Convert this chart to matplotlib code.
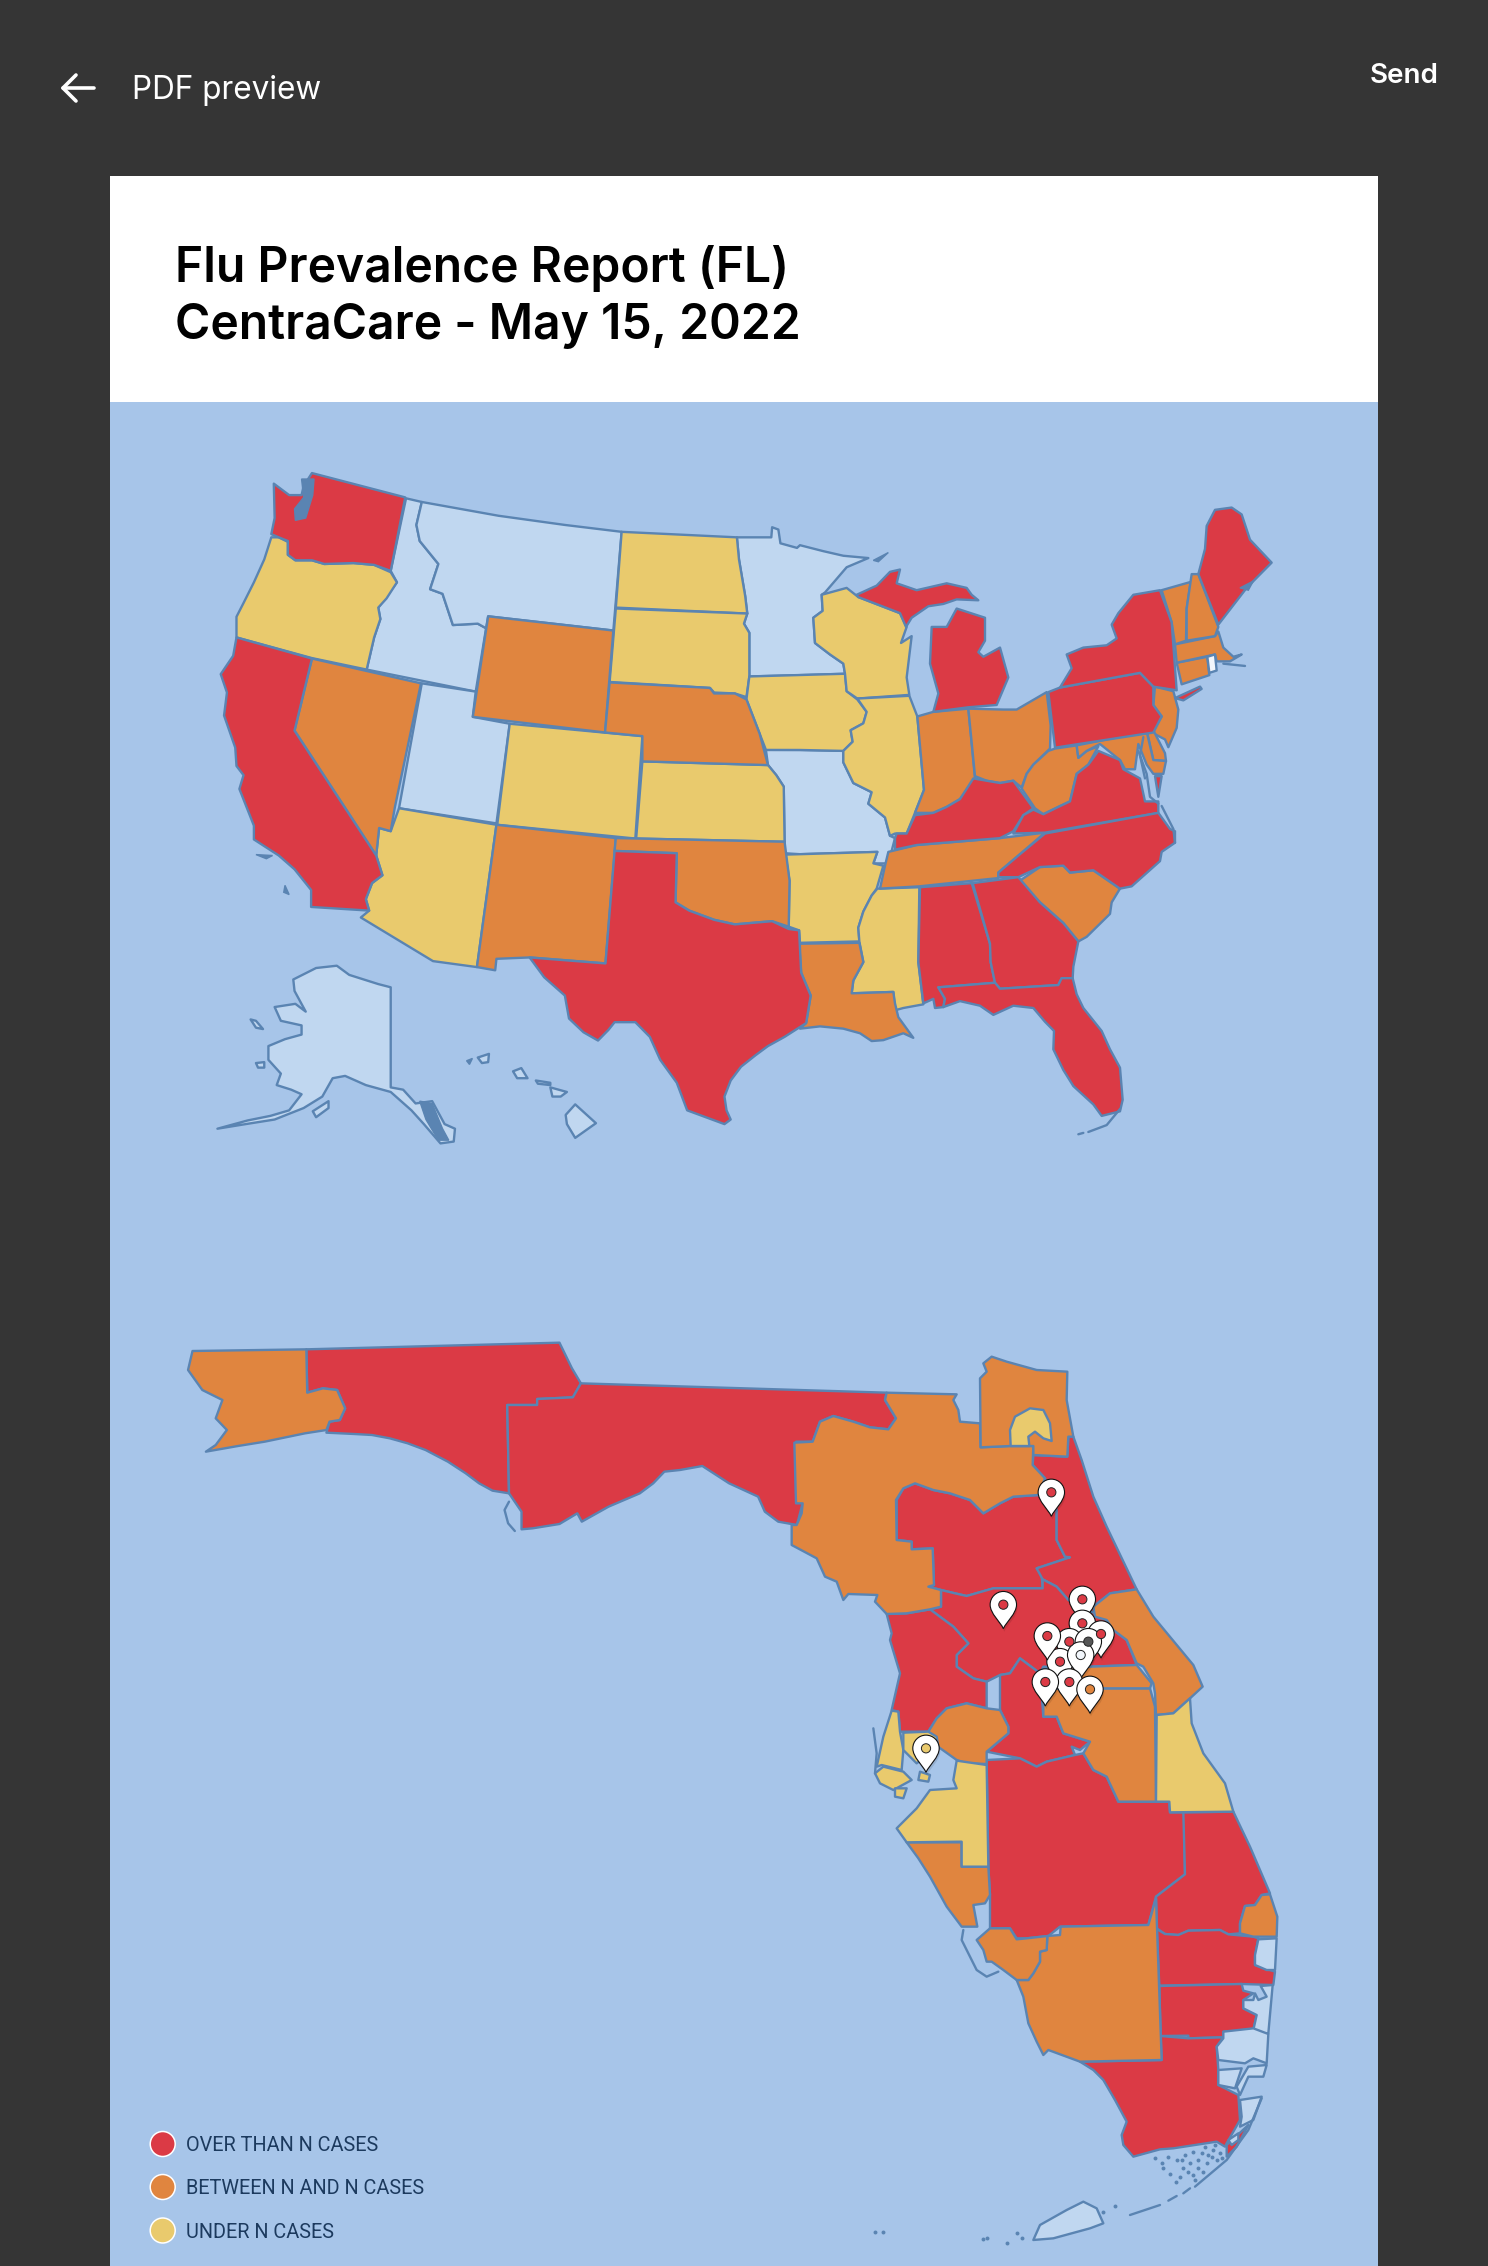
import matplotlib
matplotlib.use("Agg")
import matplotlib.pyplot as plt
from matplotlib.patches import Polygon, Circle, Rectangle, PathPatch
from matplotlib.path import Path

def _conv(x0, y0, fx, fy):
    return lambda pts: [(x0 + a / fx, y0 + b / fy) for a, b in pts]
z1 = _conv(200, 440, 2.412, 2.178)
z2 = _conv(800, 480, 3.0, 2.178)
z3 = _conv(180, 1320, 2.24, 3.0)
z4 = _conv(760, 1340, 3.0, 3.0)
z5 = _conv(840, 1780, 3.0, 3.0)

# ---------- text ----------
TITLE_LINES = ["Flu Prevalence Report (FL)", "CentraCare - May 15, 2022"]
HEADER_LABEL = "PDF preview"
SEND_LABEL = "Send"
LEGEND_LABELS = ["OVER THAN N CASES", "BETWEEN N AND N CASES", "UNDER N CASES"]
LEVEL_COLORS = {"high": "#DB3A45", "mid": "#E0853F", "low": "#E9CA6D",
                "none": "#C0D7F0", "white": "#F2F6FB"}

# ---------- US states ----------
WA = z1([(270,72),(495,125),(460,285),(420,272),(370,268),(300,270),(270,262),(230,262),(212,250),(212,220),(190,212),(172,205),(180,170),(178,95),(215,120),(245,120),(250,100)])
OR = z1([(172,212),(190,212),(212,222),(212,250),(230,262),(270,262),(300,270),(370,268),(420,272),(460,288),(475,310),(450,345),(430,365),(435,390),(420,430),(402,500),(270,475),(88,430),(88,385),(105,355),(130,310),(155,260)])
CA = z1([(88,430),(270,476),(228,633),(425,905),(440,948),(415,965),(400,1000),(408,1025),(268,1017),(268,980),(228,935),(190,905),(130,870),(130,840),(95,760),(105,730),(88,710),(85,670),(58,600),(65,550),(50,510),(80,470)])
NV = z1([(270,476),(533,530),(470,800),(460,852),(432,845),(425,905),(228,633)])
ID = z1([(497,127),(535,135),(522,185),(530,220),(575,270),(555,325),(585,335),(610,403),(670,400),(690,410),(665,548),(402,500),(420,430),(435,390),(430,365),(475,310),(460,285)])
MT = z1([(535,135),(720,165),(880,185),(1017,200),(997,415),(695,384),(690,410),(670,400),(610,403),(585,335),(555,325),(575,270),(530,220),(522,185)])
WY = z1([(695,384),(997,415),(977,637),(658,603)])
ND = z1([(1017,200),(1295,212),(1300,260),(1315,340),(1320,378),(1003,365)])
SD = z1([(1003,367),(1320,378),(1312,400),(1325,420),(1325,515),(1318,560),(1290,552),(1240,550),(1230,540),(988,527)])
NE = z1([(988,528),(1230,540),(1240,552),(1290,552),(1318,565),(1350,640),(1370,708),(1067,700),(1067,645),(977,637)])
UT = z1([(535,530),(665,548),(658,603),(747,618),(715,835),(480,802)])
CO = z1([(747,618),(1067,645),(1050,868),(717,838)])
KS = z1([(1067,700),(1370,708),(1390,730),(1408,755),(1410,875),(1052,868)])
AZ = z1([(480,802),(715,838),(668,1148),(562,1135),(388,1040),(408,1025),(400,1000),(415,965),(440,948),(425,905),(432,845),(460,852)])
NM = z1([(715,838),(1003,867),(978,1140),(795,1127),(715,1130),(712,1155),(668,1148)])
OK_ = z1([(1003,867),(1410,875),(1422,960),(1420,1060),(1380,1048),(1290,1055),(1240,1045),(1180,1025),(1147,1007),(1150,900),(1000,895)])
TX = z1([(1000,895),(1150,900),(1147,1007),(1180,1025),(1240,1045),(1290,1055),(1380,1048),(1420,1065),(1445,1068),(1450,1160),(1473,1210),(1462,1270),(1410,1300),(1370,1320),(1340,1340),(1305,1365),(1280,1395),(1265,1430),(1270,1460),(1280,1480),(1265,1490),(1175,1460),(1150,1400),(1110,1350),(1085,1300),(1050,1268),(1000,1268),(985,1285),(960,1308),(925,1290),(890,1260),(880,1210),(830,1170),(795,1127),(978,1140)])
AK = z1([(330,1145),(360,1165),(430,1185),(460,1192),(460,1410),(490,1415),(520,1445),(560,1440),(590,1490),(615,1500),(612,1528),(580,1532),(540,1490),(510,1460),(460,1420),(400,1405),(350,1385),(320,1390),(295,1430),(250,1455),(180,1480),(110,1490),(42,1500),(115,1482),(170,1472),(215,1460),(245,1425),(220,1415),(185,1405),(195,1380),(165,1350),(165,1320),(205,1305),(245,1295),(245,1275),(195,1265),(180,1235),(230,1228),(255,1245),(228,1200),(225,1175),(280,1150)])
AK_NUNIVAK = z1([(135,1357),(155,1355),(155,1367),(140,1367)])
AK_KODIAK = z1([(272,1462),(310,1440),(310,1455),(280,1475)])
AK_NUN2 = z1([(122,1262),(135,1265),(152,1283),(135,1280)])
HI_BIG = z1([(905,1447),(955,1488),(905,1520),(885,1490),(882,1470)])
HI_MAUI = z1([(845,1410),(885,1420),(870,1430),(850,1430)])
HI_OAHU = z1([(755,1375),(775,1368),(790,1390),(765,1390)])
HI_KAUAI = z1([(670,1345),(697,1337),(695,1355),(680,1357)])
HI_MOLOKAI = z1([(810,1395),(845,1400),(845,1405),(815,1402)])
MN = z1([(1295,212),(1378,212),(1380,190),(1395,195),(1400,225),(1440,235)]) + z2([(0,142),(70,155),(130,165),(205,170),(140,190),(75,245),(65,250),(68,285),(40,300),(45,355),(90,380),(130,400),(135,422),(0,425)]) + z1([(1325,515),(1325,420),(1312,400),(1320,378),(1315,340),(1300,260)])
IA = z2([(135,422),(140,460),(172,478),(200,505),(190,530),(152,545),(158,570),(130,590),(0,588)]) + z1([(1365,675),(1350,640),(1318,565),(1325,515)])
WI = z2([(65,250),(140,235),(175,255),(300,290),(320,320),(303,355),(335,340),(320,430),(328,468),(172,476),(140,460),(135,422),(130,400),(90,380),(45,355),(40,300),(68,285)])
IL = z2([(172,476),(328,470),(352,515),(372,675),(345,725),(320,770),(285,770),(270,775),(255,735),(205,705),(215,680),(160,660),(130,615),(130,590),(158,570),(152,545),(190,530),(200,505)])
MO = z2([(0,588),(130,590),(130,615),(160,660),(215,680),(205,705),(255,735),(270,775),(285,780),(265,835),(220,835),(232,810),(0,815)]) + z1([(1410,900),(1410,875),(1408,755),(1390,730),(1370,708),(1365,675)])
AR = z1([(1412,903)]) + z2([(0,815),(232,810),(220,835),(250,840),(230,890),(215,905),(190,940),(175,975),(178,1005),(0,1008)]) + z1([(1445,1068),(1420,1060),(1422,960)])
LA = z2([(0,1010),(178,1008),(190,1050),(160,1090),(155,1118),(280,1115),(285,1140),(295,1170),(320,1195),(340,1215),(310,1205),(250,1220),(215,1222),(180,1205),(130,1195),(60,1190),(0,1195)]) + z1([(1462,1270),(1473,1210),(1450,1160),(1445,1095)])
MS = z2([(232,890),(358,887),(355,1050),(370,1142),(310,1150),(285,1155),(280,1115),(155,1118),(160,1090),(190,1050),(178,1005),(175,975),(190,940),(215,905)])
AL = z2([(360,887),(515,878),(570,1010),(572,1050),(585,1095),(415,1105),(435,1130),(430,1148),(405,1150),(400,1130),(370,1140),(355,1050)])
GA = z2([(518,878),(655,865),(720,920),(790,965),(835,1005),(820,1060),(818,1085),(785,1085),(775,1100),(600,1108),(585,1095),(572,1050),(570,1010)])
FL = z2([(415,1105),(585,1095),(600,1108),(775,1100),(785,1085),(818,1085),(830,1120),(850,1150),(905,1200),(930,1240),(960,1280),(968,1350),(960,1375),(905,1385),(880,1360),(850,1340),(820,1320),(790,1285),(760,1240),(762,1200),(735,1180),(700,1150),(640,1145),(580,1165),(540,1145),(480,1135),(430,1148),(435,1130)])
SC = z2([(655,875),(720,843),(790,840),(810,855),(880,850),(960,890),(935,920),(930,945),(860,995),(835,1005),(790,965),(720,920)])
NC = z2([(1075,725),(1110,760),(1125,765),(1125,790),(1085,810),(1080,830),(995,885),(960,890),(880,850),(810,855),(790,840),(720,843),(655,865),(595,865),(595,855),(660,815),(735,770)])
TN = z2([(735,768),(660,815),(595,855),(595,867),(358,885),(240,890),(255,840),(265,810),(350,795),(600,780)])
KY = z2([(285,780),(290,770),(320,770),(345,730),(400,725),(440,712),(480,695),(520,650),(560,655),(600,660),(640,655),(665,680),(700,715),(670,730),(640,765),(600,780),(350,795),(285,805)])
VA = z2([(640,770),(670,730),(700,718),(730,728),(775,712),(810,700),(830,640),(865,620),(895,590),(960,610),(970,630),(1020,650),(1035,700),(1075,700),(1075,725),(735,768)])
WV = z2([(665,672),(680,640),(700,620),(745,590),(765,585),(830,578),(835,605),(860,590),(895,580),(865,620),(830,640),(810,700),(775,712),(730,728),(705,715)])
OH = z2([(505,498),(610,500),(650,500),(740,462),(752,535),(750,585),(700,620),(680,640),(665,670),(640,655),(600,660),(560,655),(525,645)])
IN = z2([(352,515),(400,505),(505,498),(525,650),(480,695),(440,712),(400,725),(345,725),(372,675)])
MI_L = z2([(400,505),(415,465),(390,400),(395,320),(440,320),(470,280),(555,300),(555,350),(535,375),(550,385),(600,365),(625,430),(590,490),(505,495)])
MI_U = z2([(170,250),(230,230),(270,200),(300,195),(290,225),(350,240),(440,225),(500,235),(515,250),(535,262),(470,260),(430,270),(385,275),(335,300),(318,320),(300,290),(175,255)])
PA = z2([(745,462),(780,452),(1020,420),(1060,450),(1060,490),(1085,515),(1060,550),(765,583)])
NY = z2([(780,452),(1020,420),(1060,450),(1130,458),(1115,310),(1080,240),(1000,250),(955,290),(935,315),(950,345),(920,360),(850,365),(800,380),(815,410)])
NY_LI = z2([(1125,475),(1200,450),(1205,455),(1150,480)])
NJ = z2([(1065,450),(1120,460),(1135,500),(1130,540),(1105,582),(1095,565),(1055,550),(1085,515),(1060,490)])
DE = z2([(1040,545),(1060,545),(1095,595),(1098,612),(1060,610)])
MD = z2([(830,578),(1040,548),(1060,610),(1098,612),(1090,640),(1060,640),(1040,620),(1015,575),(1005,630),(975,630),(960,610),(900,575),(860,590),(835,605)])
VA_ES = z2([(1065,645),(1085,645),(1075,690)])
CT = z2([(1130,398),(1222,385),(1228,425),(1145,445)])
RI = z2([(1222,385),(1245,380),(1250,415),(1228,420)])
MA = z2([(1125,358),(1245,340),(1255,330),(1270,365),(1300,385),(1325,380),(1290,395),(1250,395),(1245,380),(1130,398)])
VT = z2([(1085,240),(1172,222),(1160,280),(1158,350),(1125,358),(1115,310)])
NH = z2([(1175,205),(1195,205),(1255,320),(1245,340),(1160,350),(1160,280)])
ME = z2([(1195,205),(1215,150),(1220,100),(1245,65),(1295,60),(1325,75),(1350,130),(1415,180),(1340,235),(1255,315)])

US_HIGH = [WA, CA, TX, MI_L, MI_U, PA, NY, NY_LI, KY, VA, VA_ES, NC, AL, GA, FL, ME]
US_MID = [NV, WY, NE, NM, OK_, LA, IN, OH, WV, TN, SC, NJ, DE, MD, CT, MA, VT, NH]
US_LOW = [OR, ND, SD, IA, WI, IL, CO, KS, AZ, AR, MS]
US_NONE = [ID, MT, UT, MN, MO, AK, AK_NUNIVAK, AK_KODIAK, AK_NUN2, HI_BIG, HI_MAUI, HI_OAHU, HI_KAUAI, HI_MOLOKAI]
US_WHITE = [RI]
US_DARK = [z1([(245,85),(275,85),(272,120),(255,170),(230,175),(228,150),(250,125)]),
           z2([(220,175),(265,158),(235,178)]),
           z1([(135,903),(175,905),(160,912)]), z1([(205,970),(215,990),(202,985)]),
           z1([(643,1352),(657,1347),(650,1360)]), z2([(1320,235),(1360,220),(1345,240)]),
           z1([(530,1440),(560,1445),(585,1500),(600,1525),(575,1525),(545,1480)])]
US_LINES = [z2([(1015,590),(1040,640),(1050,690),(1075,705)]),
            z2([(1030,560),(1020,600),(1035,650)]),
            z2([(835,1425),(850,1422)]), z2([(865,1420),(920,1405),(960,1370)]),
            z2([(1085,710),(1120,760),(1125,790)]),
            z2([(1270,400),(1335,405)])]

# ---------- Florida regions ----------
F_PAN_W = z3([(28,93),(283,88),(285,218),(320,205),(352,210),(370,265),(358,300),(335,305),(328,330),(280,340),(190,365),(130,378),(58,395),(80,375),(105,330),(80,295),(95,240),(50,210),(18,150)])
F_PAN_A = z3([(283,88),(850,68),(878,145),(898,190),(880,232),(800,237),(800,255),(733,255),(737,520),(700,512),(670,490),(640,460),(600,425),(550,390),(510,370),(470,355),(430,345),(390,342),(328,338),(335,305),(358,300),(370,265),(352,210),(320,205),(285,218)])
F_PAN_B = z3([(733,255),(800,255),(800,237),(880,232),(898,190)]) + z4([(380,158),(375,180),(408,235),(385,268),(330,262),(280,245),(220,228),(180,245),(158,305)]) + z3([(1380,365),(1380,520),(1395,548),(1382,615),(1340,605),(1310,575),(1295,530),(1230,490),(1170,438),(1120,450),(1085,455),(1060,490),(1030,520),(960,560),(900,605),(890,580),(850,612),(790,625),(765,628),(765,575),(737,520)])
F_NC = z4([(380,158),(590,163),(580,180),(595,210),(600,245),(660,250),(662,322),(750,318),(820,318),(818,375),(855,415),(835,465),(760,470),(720,490),(670,520),(630,480),(570,460),(520,450),(465,430),(430,445),(408,480),(410,600),(455,605),(455,628),(518,625),(522,735),(505,740),(543,750),(543,800),(510,808),(440,820),(380,822),(345,785),(352,765),(265,762),(250,780),(230,725),(195,710),(170,655),(95,615),(95,555),(110,555),(125,520),(128,490),(108,490),(103,308),(158,305),(180,245),(220,228),(280,245),(330,262),(385,268),(408,235),(375,180)])
F_JAX = z4([(662,322),(660,115),(680,95),(670,70),(695,50),(740,65),(830,90),(922,95),(920,180),(940,290),(925,290),(922,350),(820,345),(820,318),(750,318)])
F_DUVAL = z4([(752,318),(750,270),(765,230),(810,205),(850,210),(870,250),(875,303),(850,295),(825,275),(805,290),(808,318)])
F_MARION = z4([(410,480),(430,445),(465,430),(520,450),(570,460),(630,480),(670,520),(720,490),(760,470),(835,465),(890,510),(890,600),(915,650),(930,652),(830,685),(845,705),(848,745),(700,745),(620,768),(585,760),(543,750),(505,740),(522,735),(518,625),(455,628),(455,605),(410,600)])
F_VOLUSIA = z4([(820,345),(922,350),(925,290),(940,290),(965,360),(1000,470),(1040,560),(1130,748),(1050,760),(1000,800),(1005,820),(960,800),(925,780),(890,740),(848,718),(830,685),(930,652),(915,650),(890,600),(890,510),(855,415),(818,375)])
F_BREVARD = z4([(1130,748),(1180,830),(1300,975),(1328,1040),(1290,1075),(1240,1120),(1188,1125),(1185,1060),(1180,1030),(1150,980),(1130,970),(1100,900),(1060,870),(1040,840),(1005,830),(1000,800),(1050,760)])
F_LAKE = z4([(543,750),(585,760),(620,768),(700,745),(848,745),(848,718),(890,740),(925,780),(960,800),(1005,820),(1040,840),(1060,870),(1100,900),(1130,975),(990,980),(850,980),(840,1000),(780,955),(750,1000),(720,1005),(680,1025),(640,1015),(590,980),(590,945),(625,910),(580,860),(510,808),(543,800)])
F_PASCO = z4([(380,822),(440,820),(510,808),(580,860),(625,910),(590,945),(590,980),(640,1015),(680,1025),(680,1105),(620,1090),(560,1105),(530,1135),(505,1175),(420,1175),(415,1115),(395,1110),(420,1000),(390,900),(395,880)])
F_POLK = z4([(720,1005),(750,1000),(780,955),(840,1000),(850,1130),(890,1130),(910,1180),(990,1205),(960,1230),(935,1220),(945,1245),(860,1265),(830,1280),(780,1255),(680,1235),(745,1180),(745,1160),(720,1110)])
F_HILLS = z4([(505,1175),(530,1135),(560,1105),(620,1090),(680,1105),(720,1110),(745,1160),(745,1180),(680,1235),(680,1272),(620,1270),(590,1260),(555,1235),(520,1210)])
F_OSCEOLA = z4([(850,1045),(1170,1045),(1185,1100),(1188,1385),(1075,1385),(1040,1310),(1000,1290),(970,1240),(990,1205),(910,1180),(890,1130),(850,1130)])
F_OSC_N = z4([(850,985),(1130,975),(1175,1030),(1170,1045),(850,1045)])
F_INDIAN = z4([(1190,1125),(1240,1120),(1290,1075),(1295,1150),(1330,1240),(1395,1330),(1420,1415),(1230,1417),(1228,1385),(1188,1385)])
F_PIN_N = z4([(395,1112),(415,1115),(420,1175),(430,1230),(425,1290),(365,1275),(350,1280),(370,1190)])
F_PIN_C = z4([(430,1178),(505,1175),(530,1190),(535,1220),(470,1270),(430,1230)])
F_PIN_S = z4([(345,1300),(370,1280),(430,1295),(455,1320),(400,1350),(360,1330)])
F_PIN_T = z4([(480,1295),(510,1305),(505,1325),(475,1320)])
F_PIN_U = z4([(405,1345),(440,1345),(430,1375),(405,1370)])
F_SW_Y = z4([(590,1262),(680,1275),(685,1580),(605,1580),(605,1505),(440,1507),(410,1465),(470,1405),(510,1350),(590,1345),(580,1320)])
F_HIGHLANDS = z4([(680,1260),(780,1255),(830,1280),(860,1265),(945,1245),(970,1240),(1000,1290),(1040,1310),(1075,1385),(1228,1385),(1230,1417),(1272,1417)]) + z5([(1035,283),(948,350),(925,435),(660,440),(625,468),(560,475),(530,475),(510,445),(450,445),(450,345),(445,260)])
F_STLUCIE = z5([(1030,97),(1180,95),(1230,200),(1290,340),(1265,345),(1245,375),(1215,378),(1200,430),(1200,460),(1165,463),(1140,450),(1045,452),(1015,465),(975,462),(950,445),(948,350),(1035,283)])
F_MARTIN = z5([(1265,345),(1290,343),(1312,410),(1310,470),(1240,470),(1200,460),(1200,430),(1215,378),(1245,375)])
F_PALM = z5([(950,447),(975,462),(1015,465),(1045,452),(1140,450),(1165,463),(1240,470),(1255,475),(1245,530),(1245,555),(1305,575),(1300,615),(1205,612),(958,617)])
F_BROWARD = z5([(958,618),(1205,612),(1210,632),(1240,640),(1210,660),(1210,685),(1250,705),(1240,750),(1150,755),(1150,772),(1045,775),(1045,767),(962,768)])
F_DADE = z5([(720,845),(965,840),(962,768),(1045,775),(1150,772),(1130,800),(1135,870),(1135,915),(1195,945),(1200,1020),(1160,1090),(1155,1100),(1130,1085),(1000,1105),(960,1108),(880,1130),(850,1095),(845,1065),(860,1025),(825,960),(790,900),(760,870)])
F_DADE_S = z5([(1160,1095),(1225,1035),(1190,1100),(1160,1130)])
F_COLLIER = z5([(530,600),(565,600),(580,580),(600,545),(600,515),(620,510),(622,468),(660,465),(662,440),(925,435),(948,355),(965,840),(720,845),(625,810),(610,825),(590,785),(565,730),(550,650)])
F_CHARLOTTE = z5([(410,480),(450,445),(510,445),(530,478),(560,475),(622,468),(620,510),(600,515),(600,545),(580,580),(565,600),(530,600),(490,570),(455,545),(440,545),(430,510)])
F_SARASOTA = z5([(200,187),(365,187),(365,260),(445,260),(450,345),(435,370),(400,375),(412,440),(365,440),(320,380),(270,290),(235,235)])
F_LB_1 = z5([(1255,478),(1310,475),(1305,570),(1280,570),(1245,555),(1245,525)])
F_LB_2 = z5([(1262,618),(1298,615),(1285,760),(1250,760),(1240,750),(1250,705),(1210,685),(1210,660),(1240,660),(1245,640),(1255,660),(1280,650)])
F_LB_3 = z5([(1150,755),(1240,745),(1285,762),(1280,850),(1240,835),(1215,850),(1135,840),(1130,800),(1150,775)])
F_LB_4 = z5([(1135,870),(1205,865),(1185,925),(1135,915)])
F_LB_5 = z5([(1225,860),(1280,855),(1270,890),(1225,890),(1200,945),(1190,920)])
F_LB_6 = z5([(1200,960),(1265,950),(1240,1020),(1200,1040),(1205,1010)])
F_LB_7 = z5([(1165,1080),(1195,1060),(1195,1080),(1175,1095)])
F_KEYWEST = z5([(580,1380),(600,1335),(680,1290),(730,1265),(770,1285),(790,1330),(750,1345),(640,1375)])

FL_HIGH = [F_PAN_A, F_PAN_B, F_MARION, F_VOLUSIA, F_LAKE, F_PASCO, F_POLK, F_HIGHLANDS, F_STLUCIE, F_PALM, F_BROWARD, F_DADE, F_DADE_S]
FL_MID = [F_PAN_W, F_NC, F_JAX, F_BREVARD, F_HILLS, F_OSCEOLA, F_OSC_N, F_COLLIER, F_CHARLOTTE, F_SARASOTA, F_MARTIN]
FL_LOW = [F_DUVAL, F_INDIAN, F_PIN_N, F_PIN_C, F_PIN_S, F_PIN_T, F_PIN_U, F_SW_Y]
FL_NONE = [F_LB_1, F_LB_2, F_LB_3, F_LB_4, F_LB_5, F_LB_6, F_LB_7, F_KEYWEST]
FL_LINES = [z3([(737,545),(727,570),(735,610),(750,633)]),
            z5([(370,450),(365,480),(410,570),(440,590),(475,575)]),
            z5([(870,1305),(960,1275)]), z5([(985,1262),(1010,1248)]), z5([(1030,1240),(1050,1225)]),
            z5([(1065,1220),(1160,1140),(1225,1050),(1265,955)]),
            z4([(340,1165),(350,1240),(345,1300)])]
FL_BAY_ISLETS = z5([(945,1135),(965,1150),(985,1130),(970,1165),(990,1183),(1010,1140),(1008,1205),(1030,1165),(1050,1150),(1060,1185),(1075,1140),(1085,1120),(1100,1150),(1120,1110),(1130,1140),(1060,1115),(1035,1125),(1090,1175),(1020,1190),(1105,1125),(1140,1120),
                     (1045,1175),(1075,1165),(1115,1130),(1125,1095),(1095,1100),(1145,1135),(1025,1140),(1065,1200),
                     (790,1295),(825,1277),(440,1375),(430,1378),(530,1358),(500,1388),(545,1375),(105,1355),(128,1357)])

# ---------- pins: dot centre in zoom frame, and dot colour ----------
PIN_XY = z4([(874,457),(730,794),(967,778),(967,850),(1023,882),(928,905),(985,905),(900,965),(862,888),(962,945),(928,1026),(856,1026),(990,1048),(498,1225)])
PIN_DOT = ["high","high","high","high","high","high","dark","high","high","white","high","high","mid","low"]

# ---------- drawing ----------
W, H = 1488, 2266
fig = plt.figure(figsize=(W/100, H/100), dpi=100, facecolor="#353535")
ax = fig.add_axes([0, 0, 1, 1])
ax.set_xlim(0, W); ax.set_ylim(H, 0); ax.axis("off")

OCEAN, EDGE = "#A7C5E9", "#5A84B2"
ax.add_patch(Rectangle((110, 402), 1268, H-402, fc=OCEAN, ec="none", zorder=1))
ax.add_patch(Rectangle((110, 176), 1268, 226, fc="white", ec="none", zorder=1))

def fill(polys, level):
    for p in polys:
        ax.add_patch(Polygon(p, closed=True, fc=LEVEL_COLORS[level], ec=EDGE, lw=1.7, joinstyle="round", zorder=3))

for polys, lv in [(US_NONE,"none"),(US_LOW,"low"),(US_MID,"mid"),(US_HIGH,"high"),(US_WHITE,"white")]:
    fill(polys, lv)
for polys, lv in [(FL_HIGH,"high"),(FL_MID,"mid"),(FL_LOW,"low"),(FL_NONE,"none")]:
    fill(polys, lv)
for p in US_DARK:
    ax.add_patch(Polygon(p, closed=True, fc=EDGE, ec=EDGE, lw=1, zorder=4))
for l in US_LINES + FL_LINES:
    ax.plot([q[0] for q in l], [q[1] for q in l], color=EDGE, lw=1.7, zorder=4, solid_capstyle="round")
ax.scatter([q[0] for q in FL_BAY_ISLETS], [q[1] for q in FL_BAY_ISLETS], s=8, color=EDGE, lw=0, zorder=4)

def pin(x, y, dot):
    r, h = 13.2, 24.0
    verts = [(x, y+h), (x-3, y+17), (x-r, y+9), (x-r, y), (x-r, y-7.3), (x-7.3, y-r), (x, y-r),
             (x+7.3, y-r), (x+r, y-7.3), (x+r, y), (x+r, y+9), (x+3, y+17), (x, y+h), (x, y+h)]
    codes = [Path.MOVETO] + [Path.CURVE4]*12 + [Path.CLOSEPOLY]
    ax.add_patch(PathPatch(Path([(a+1, b+3) for a, b in verts], codes), fc="#000000", ec="none", alpha=0.10, zorder=5))
    ax.add_patch(PathPatch(Path(verts, codes), fc="white", ec="#111111", lw=0.8, zorder=6))
    c = {"dark": "#555555"}.get(dot, LEVEL_COLORS.get(dot))
    ax.add_patch(Circle((x, y), 4.6, fc=c, ec="#222222", lw=0.7, zorder=7))

for (x, y), d in zip(PIN_XY, PIN_DOT):
    pin(x, y, d)

# header
ax.text(132, 91, HEADER_LABEL, color="white", fontsize=22.7, family="Inter", va="center", ha="left", zorder=9)
ax.text(1439, 76, SEND_LABEL, color="white", fontsize=20, family="Inter", weight="semibold", va="center", ha="right", zorder=9)
ax.plot([63, 94], [88, 88], color="white", lw=2.6, solid_capstyle="round", zorder=9)
ax.plot([76, 63, 76], [75, 88, 101], color="white", lw=2.6, solid_capstyle="round", solid_joinstyle="round", zorder=9)
for (yy, t) in zip([268, 326], TITLE_LINES):
    ax.text(175, yy, t, color="black", fontsize=34.6, family="Inter", weight="semibold", va="center", ha="left", zorder=9)

# legend
for yy, t, lv in zip([2144, 2187, 2230.5], LEGEND_LABELS, ["high", "mid", "low"]):
    ax.add_patch(Circle((162.7, yy), 12.5, fc=LEVEL_COLORS[lv], ec="white", lw=1.1, zorder=8))
    ax.text(186, yy + 1.5, t, color="#1C3A5E", fontsize=14.3, family="Roboto", va="center", ha="left", zorder=9)

fig.savefig("out.png", dpi=100, facecolor=fig.get_facecolor())
